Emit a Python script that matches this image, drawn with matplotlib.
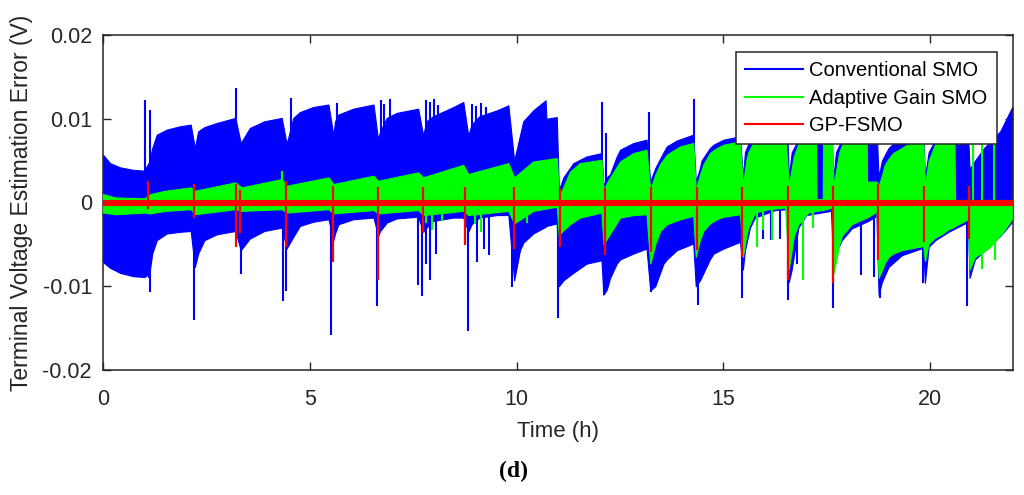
import numpy as np
import matplotlib
matplotlib.use("Agg")
import matplotlib.pyplot as plt
from matplotlib.lines import Line2D

# Envelopes of the dense switching signals (mV)
blue_t = [0.00, 0.17, 0.41, 0.73, 1.00,
          1.12, 1.19, 1.30, 1.54, 1.86, 2.12,
          2.22, 2.30, 2.45, 2.75, 3.20,
          3.33, 3.55, 3.90, 4.32,
          4.44, 4.60, 4.76, 5.08, 5.45,
          5.57, 5.61, 5.69, 6.05, 6.54,
          6.65, 6.70, 6.86, 7.10, 7.62,
          7.74, 7.82, 7.98, 8.47, 8.71,
          8.83, 8.91, 9.10, 9.52, 9.80,
          9.94, 10.08, 10.16, 10.40, 10.70, 10.72, 10.97,
          11.02, 11.13, 11.37, 11.69, 12.05,
          12.10, 12.18, 12.26, 12.42, 12.50, 12.82, 13.14,
          13.23, 13.35, 13.55, 13.63, 13.87, 14.27,
          14.33, 14.43, 14.47, 14.67, 14.76, 15.00, 15.40,
          15.47, 15.52, 15.64, 15.76, 16.25, 16.54,
          16.58, 16.65, 16.81, 17.00, 17.60,
          17.66, 17.72, 17.86, 18.10, 18.50, 18.70,
          18.75, 18.83, 18.99, 19.31, 19.83,
          19.87, 19.96, 20.12, 20.44, 20.84, 20.91,
          20.95, 21.08, 21.30, 21.69, 21.98]
blue_hi = [5.7, 4.7, 4.2, 3.9, 3.8,
           4.9, 6.5, 8.1, 8.7, 9.1, 9.3,
           6.5, 8.5, 9.0, 9.5, 10.1,
           7.1, 8.9, 9.7, 10.1,
           7.0, 10.1, 10.8, 11.4, 11.7,
           8.0, 9.7, 10.5, 11.2, 11.7,
           7.5, 8.5, 10.1, 10.7, 11.2,
           8.0, 9.7, 10.3, 11.4, 12.0,
           8.0, 9.3, 10.3, 11.0, 11.6,
           5.0, 8.0, 9.7, 11.0, 12.2, 10.0, 10.2,
           1.5, 3.0, 4.7, 5.5, 5.9,
           2.0, 3.0, 3.4, 5.5, 6.3, 7.1, 7.5,
           2.5, 4.1, 6.0, 6.7, 7.4, 8.1,
           2.5, 4.1, 5.0, 6.5, 6.9, 7.5, 7.9,
           3.0, 6.0, 7.5, 8.0, 8.7, 9.0,
           3.0, 6.0, 7.5, 8.3, 9.0,
           3.0, 6.0, 7.5, 8.3, 9.0, 9.2,
           3.0, 5.0, 6.5, 8.0, 8.7,
           3.0, 6.0, 7.5, 8.2, 8.5, 8.5,
           4.0, 5.0, 6.5, 8.5, 11.4]
blue_lo = [-7.1, -7.8, -8.4, -8.8, -8.9,
           -8.5, -6.1, -4.5, -3.7, -3.5, -3.4,
           -7.7, -6.1, -4.5, -3.8, -3.4,
           -5.7, -4.3, -3.4, -3.0,
           -5.5, -4.1, -2.8, -2.3, -2.0,
           -4.5, -3.7, -2.6, -2.0, -1.8,
           -4.0, -3.4, -2.4, -1.9, -1.7,
           -3.5, -3.0, -2.2, -1.8, -1.8,
           -3.5, -2.6, -1.8, -1.5, -1.5,
           -9.3, -5.7, -4.8, -3.7, -2.9, -2.8, -2.5,
           -10.0, -9.3, -8.4, -7.3, -6.9,
           -11.0, -10.4, -9.0, -7.3, -6.8, -6.1, -5.5,
           -10.5, -10.0, -7.3, -6.8, -5.7, -4.9,
           -10.0, -9.3, -8.9, -6.8, -6.1, -5.5, -4.7,
           -8.0, -5.7, -3.0, -1.8, -0.9, -0.8,
           -9.5, -8.0, -3.0, -1.5, -1.0,
           -8.0, -6.0, -4.5, -3.1, -2.2, -1.6,
           -11.0, -9.5, -7.7, -6.3, -5.4,
           -9.6, -5.3, -4.5, -3.5, -2.5, -2.3,
           -9.0, -6.8, -5.8, -4.0, -2.3]

green_t = [0.00, 0.30, 1.00, 1.14, 1.50, 2.12, 2.22, 3.20, 3.35, 4.32,
           4.44, 5.45, 5.57, 6.54, 6.65, 7.62, 7.74, 8.71, 8.83, 9.80,
           9.94, 10.40, 10.97,
           11.02, 11.09, 11.29, 11.53, 12.05,
           12.10, 12.21, 12.50, 12.82, 13.14,
           13.23, 13.35, 13.47, 13.63, 13.95, 14.27,
           14.33, 14.43, 14.51, 14.67, 14.84, 15.00, 15.40,
           15.47, 15.55, 15.60, 15.76, 16.09, 16.49,
           16.58, 16.70, 16.81, 17.05, 17.24, 17.25, 17.40, 17.41, 17.62,
           17.66, 17.80, 17.86, 18.10, 18.46, 18.47, 18.70,
           18.75, 18.83, 18.90, 18.99, 19.10, 19.31, 19.40, 19.83,
           19.87, 19.96, 20.12, 20.30, 20.44, 20.58, 20.60, 20.84, 20.91,
           20.95, 21.08, 21.40, 21.73, 21.97]
green_hi = [1.0, 0.6, 0.5, 1.0, 1.4, 1.8, 1.4, 2.4, 1.8, 2.8,
            2.0, 3.0, 2.2, 3.2, 2.6, 3.6, 3.0, 4.5, 3.4, 4.7,
            3.0, 4.9, 5.3,
            1.0, 1.4, 3.7, 4.7, 5.1,
            1.5, 2.6, 4.9, 5.9, 6.3,
            1.5, 3.3, 4.6, 5.7, 6.7, 7.1,
            1.5, 3.3, 4.5, 5.9, 6.5, 6.9, 7.3,
            2.0, 5.0, 6.0, 7.5, 8.2, 8.5,
            2.0, 5.5, 7.0, 8.0, 8.5, 0.4, 0.4, 8.5, 8.8,
            2.0, 6.0, 6.8, 8.0, 8.8, 2.5, 2.5,
            2.0, 3.2, 4.5, 5.2, 5.9, 6.5, 6.8, 7.5,
            2.0, 5.0, 7.0, 8.0, 8.3, 8.5, 0.3, 0.3, 0.3,
            0.3, 0.3, 0.3, 0.3, 0.3]
green_lo = [-1.2, -1.4, -1.2, -1.3, -1.0, -0.8, -1.4, -0.8, -1.0, -0.8,
            -1.2, -0.8, -1.3, -0.9, -1.3, -0.9, -1.5, -1.0, -1.5, -1.0,
            -2.5, -1.0, -0.5,
            -4.0, -3.5, -2.6, -1.8, -1.2,
            -5.0, -4.1, -1.8, -1.5, -1.4,
            -7.3, -5.0, -3.4, -2.6, -2.0, -1.6,
            -6.5, -4.5, -3.4, -2.5, -2.0, -1.7, -1.4,
            -6.5, -4.0, -3.0, -1.2, -0.8, -0.6,
            -8.0, -4.0, -2.6, -1.2, -1.0, -1.0, -0.9, -0.9, -0.6,
            -8.5, -5.0, -4.0, -2.6, -1.8, -1.8, -1.1,
            -9.0, -8.1, -7.2, -6.5, -6.1, -5.7, -5.6, -5.2,
            -7.0, -4.9, -4.2, -3.7, -3.2, -2.9, -2.8, -2.2, -2.0,
            -8.0, -6.5, -5.5, -3.7, -2.0]

red_t = [0.0, 22.0]
red_hi = [0.3, 0.3]
red_lo = [-0.3, -0.3]

# Short spikes around the pulse events (mV)
blue_spike_t = [1.02, 1.14, 3.22, 4.55, 5.65, 6.72, 6.80, 6.93, 7.82, 7.90,
                8.00, 8.10, 8.92, 9.02, 9.15, 9.27, 12.06, 12.16, 13.20, 14.29,
                1.10, 1.14, 2.19, 3.33, 4.36, 4.42, 5.52, 6.63, 7.62, 7.70,
                7.82, 7.90, 8.05, 8.82, 9.05, 9.20, 9.32, 9.88, 11.00, 12.11,
                13.26, 14.38, 15.45, 15.95, 16.15, 16.37, 16.57, 16.77, 17.64,
                18.33, 18.65, 18.79, 19.83, 20.88, 21.24]
blue_spike_v = [12.2, 11.0, 13.7, 12.5, 11.9, 12.2, 11.8, 12.3, 12.2, 12.0,
                12.4, 11.6, 11.8, 11.5, 11.9, 11.4, 12.0, 8.3, 10.8, 12.4,
                -9.0, -10.7, -14.0, -8.5, -11.8, -10.6, -15.8, -12.4, -9.8, -11.2,
                -7.3, -9.3, -6.2, -15.4, -7.1, -5.5, -6.3, -10.1, -13.8, -11.0,
                -10.7, -12.2, -11.4, -4.3, -4.5, -4.3, -11.6, -7.3, -12.6,
                -8.7, -8.9, -11.4, -9.6, -12.4, -5.7]

green_spike_t = [4.32, 7.80, 7.95, 8.20, 9.00, 9.15, 10.25, 15.80, 15.96, 16.17,
                 16.93, 17.17, 21.04, 21.24, 21.26, 21.54, 21.56]
green_spike_v = [3.8, -2.5, -3.3, -2.2, -2.6, -3.5, -2.4, -5.3, -3.3, -4.5,
                 -9.2, -3.1, 8.0, -7.9, 8.0, 8.0, -6.9]

red_spike_t = [1.09, 2.20, 3.21, 3.30, 4.43, 5.55, 6.65, 7.74, 8.74, 9.94,
               11.05, 12.13, 13.24, 14.37, 15.46, 16.56, 17.64, 18.74, 19.85, 20.93]
red_spike_hi = [2.6, 2.2, 2.2, 1.5, 2.6, 2.0, 1.8, 1.8, 1.8, 1.8,
                1.7, 1.7, 1.8, 1.8, 1.8, 2.0, 2.0, 2.2, 2.0, 2.0]
red_spike_lo = [-0.8, -1.8, -5.3, -3.7, -5.3, -7.1, -9.3, -3.7, -5.1, -5.5,
                -5.3, -6.3, -5.9, -5.7, -6.5, -9.3, -9.6, -6.9, -4.7, -4.3]

series_names = ["Conventional SMO", "Adaptive Gain SMO", "GP-FSMO"]
series_colors = ["#0000FF", "#00FF00", "#FF0000"]
x_ticks = [0, 5, 10, 15, 20]
y_ticks = [-0.02, -0.01, 0, 0.01, 0.02]
y_tick_labels = ["-0.02", "-0.01", "0", "0.01", "0.02"]


def V(vals):
    return np.array(vals) / 1000.0


plt.rcParams['font.family'] = ['Liberation Sans', 'DejaVu Sans']

fig = plt.figure(figsize=(10.24, 4.95), dpi=100)
ax = fig.add_axes([103 / 1024, 1 - 370 / 495, 910 / 1024, 335 / 495])

blue, green, red = series_colors

ax.fill_between(blue_t, V(blue_lo), V(blue_hi), color=blue, lw=0.8, zorder=2)
ax.vlines(blue_spike_t, 0, V(blue_spike_v), color=blue, lw=1.5, zorder=2)

ax.fill_between(green_t, V(green_lo), V(green_hi), color=green, lw=0.8, zorder=3)
ax.vlines(green_spike_t, 0, V(green_spike_v), color=green, lw=1.5, zorder=3)

ax.fill_between(red_t, V(red_lo), V(red_hi), color=red, lw=0.8, zorder=4)
ax.vlines(red_spike_t, V(red_spike_lo), V(red_spike_hi), color=red, lw=1.6, zorder=4)

ax.set_xlim(0, 22)
ax.set_ylim(-0.02, 0.02)
ax.set_xticks(x_ticks)
ax.set_yticks(y_ticks)
ax.set_yticklabels(y_tick_labels)
ax.tick_params(direction='in', length=6, width=1, colors='#262626',
               labelsize=15.5, top=True, right=True, labelcolor='#262626')
ax.tick_params(axis='x', pad=13.5)
ax.tick_params(axis='y', pad=8)
for s in ax.spines.values():
    s.set_color('#262626')
    s.set_linewidth(1.1)

ax.set_xlabel("Time (h)", fontsize=16, color='#262626')
ax.xaxis.set_label_coords(0.5, -0.152)
ax.set_ylabel("Terminal Voltage Estimation Error (V)", fontsize=16.5, color='#262626')
ax.yaxis.set_label_coords(-0.077, 0.5)

handles = [Line2D([], [], color=c, lw=1.5) for c in series_colors]
leg = ax.legend(handles, series_names, loc='upper right',
                bbox_to_anchor=(0.982, 0.948), borderaxespad=0,
                fontsize=14.5, handlelength=2.9, handletextpad=0.3,
                labelspacing=0.42, borderpad=0.45, fancybox=False,
                framealpha=1, edgecolor='#262626')
leg.get_frame().set_linewidth(1.1)
leg.set_zorder(10)

fig.text(514 / 1024, 1 - 471 / 495, "(d)", ha='center', va='center',
         fontsize=17, fontweight='bold', family='Liberation Serif')

fig.savefig("out.png", dpi=100)
